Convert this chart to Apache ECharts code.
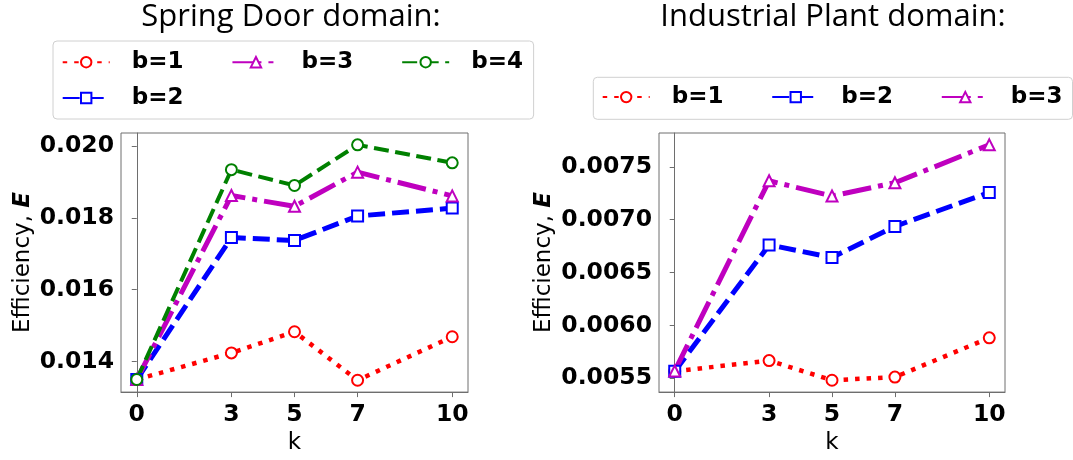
<!DOCTYPE html>
<html>
<head>
<meta charset="utf-8">
<script src="https://cdn.jsdelivr.net/npm/echarts@6/dist/echarts.min.js"></script>
<style>
html,body{margin:0;padding:0;background:#fff;}
#chart{width:1073px;height:460px;}
</style>
</head>
<body>
<div id="chart"></div>
<script>
// ---- data ----
const kValues = [0, 3, 5, 7, 10];
const xTicks = [0, 3, 5, 7, 10];
const springTitle = 'Spring Door domain:';
const plantTitle = 'Industrial Plant domain:';
const springB1 = [0.01350, 0.01424, 0.01483, 0.01348, 0.01469];
const springB2 = [0.01350, 0.01745, 0.01737, 0.01805, 0.01827];
const springB3 = [0.01350, 0.01862, 0.01832, 0.01927, 0.01861];
const springB4 = [0.01350, 0.01934, 0.01890, 0.02003, 0.01953];
const plantB1 = [0.005567, 0.005668, 0.005482, 0.005512, 0.005883];
const plantB2 = [0.005567, 0.006762, 0.006643, 0.006937, 0.007258];
const plantB3 = [0.005570, 0.007368, 0.007224, 0.007350, 0.007708];
const springYTicks = [0.014, 0.016, 0.018, 0.020];
const plantYTicks = [0.0055, 0.0060, 0.0065, 0.0070, 0.0075];

const pairs = (ys) => kValues.map((k, i) => [k, ys[i]]);

const styles = {
  'b=1': {color: '#ff0000', symbol: 'emptyCircle', width: 4.5, dash: [4.5, 7]},
  'b=2': {color: '#0000ff', symbol: 'emptyRect', width: 5, dash: [17, 7]},
  'b=3': {color: '#bf00bf', symbol: 'emptyTriangle', width: 5, dash: [29, 7, 5, 7]},
  'b=4': {color: '#008000', symbol: 'emptyCircle', width: 4, dash: [15, 6.5]}
};

function mkSeries(name, ys, gi) {
  const s = styles[name];
  return {
    type: 'line', name: name, data: pairs(ys),
    xAxisIndex: gi, yAxisIndex: gi,
    symbol: s.symbol, symbolSize: 11, showAllSymbol: true,
    lineStyle: {color: s.color, width: s.width, type: s.dash, cap: 'butt'},
    itemStyle: {color: s.color, borderColor: s.color, borderWidth: 1.2},
    emphasis: {disabled: true}
  };
}

const tickFont = {fontFamily: 'DejaVu Sans', fontWeight: 'bold', fontSize: 23.5, color: '#000'};
const nameFont = {fontFamily: 'DejaVu Sans', fontSize: 23, color: '#000',
  rich: {e: {fontFamily: 'DejaVu Sans', fontWeight: 'bold', fontStyle: 'italic', fontSize: 23, color: '#000'}}};
const frame = '#6e6e6e';

function xAxis(gi) {
  return {
    type: 'value', gridIndex: gi, min: -0.5, max: 10.5,
    name: 'k', nameLocation: 'middle', nameGap: 36, nameTextStyle: nameFont,
    axisLine: {show: true, lineStyle: {color: frame, width: 1}},
    axisTick: {show: true, length: 5, customValues: xTicks, lineStyle: {color: frame}},
    axisLabel: Object.assign({margin: 11, customValues: xTicks, formatter: (v) => String(v)}, tickFont),
    splitLine: {show: false}
  };
}
function yAxis(gi, min, max, ticks, dec, gap) {
  return {
    type: 'value', gridIndex: gi, min: min, max: max,
    name: 'Efficiency, {e|E}', nameLocation: 'middle', nameGap: gap, nameRotate: 90, nameTextStyle: nameFont,
    axisLine: {show: true, lineStyle: {color: frame, width: 1}},
    axisTick: {show: true, length: 5, customValues: ticks, lineStyle: {color: frame}},
    axisLabel: Object.assign({margin: 7, customValues: ticks, formatter: (v) => v.toFixed(dec)}, tickFont),
    splitLine: {show: false}
  };
}

const legendText = {fontFamily: 'DejaVu Sans', fontWeight: 'bold', fontSize: 23, color: '#000', lineHeight: 24, padding: [0, 0, 0, 17]};

const option = {
  animation: false,
  backgroundColor: '#fff',
  graphic: [
    {type: 'text', x: 291, y: 17, style: {text: springTitle, font: '31px "Open Sans"', fill: '#000', textAlign: 'center', textVerticalAlign: 'middle'}},
    {type: 'text', x: 833, y: 17, style: {text: plantTitle, font: '31px "Open Sans"', fill: '#000', textAlign: 'center', textVerticalAlign: 'middle'}}
  ],
  legend: [
    {data: ['b=1', 'b=3', 'b=4'], left: 53, top: 41, orient: 'horizontal', width: 470,
     padding: [9.2, 10.7, 44.8, 8.7], itemGap: 48, itemWidth: 47, itemHeight: 13,
     borderColor: '#d0d0d0', borderWidth: 1, borderRadius: 4, backgroundColor: '#fff',
     textStyle: legendText, selectedMode: false},
    {data: ['b=2'], left: 61.7, top: 86, orient: 'horizontal',
     padding: 0, itemWidth: 47, itemHeight: 13, textStyle: legendText, selectedMode: false},
    {data: ['b=1', 'b=2', 'b=3'], left: 593.3, top: 77.3, orient: 'horizontal', width: 470,
     padding: [7.8, 10, 10.2, 8.4], itemGap: 47.8, itemWidth: 47, itemHeight: 13,
     borderColor: '#d0d0d0', borderWidth: 1, borderRadius: 4, backgroundColor: '#fff',
     textStyle: legendText, selectedMode: false}
  ],
  grid: [
    {left: 121, top: 133, width: 347, height: 268, show: true, borderColor: frame, borderWidth: 1, containLabel: false},
    {left: 659, top: 133, width: 346, height: 268, show: true, borderColor: frame, borderWidth: 1, containLabel: false}
  ],
  xAxis: [xAxis(0), xAxis(1)],
  yAxis: [
    yAxis(0, 0.01315, 0.02036, springYTicks, 3, 86),
    yAxis(1, 0.00537, 0.00782, plantYTicks, 4, 103)
  ],
  series: [
    mkSeries('b=1', springB1, 0),
    mkSeries('b=2', springB2, 0),
    mkSeries('b=3', springB3, 0),
    mkSeries('b=4', springB4, 0),
    mkSeries('b=1', plantB1, 1),
    mkSeries('b=2', plantB2, 1),
    mkSeries('b=3', plantB3, 1)
  ]
};

const chart = echarts.init(document.getElementById('chart'), null, {renderer: 'canvas'});
chart.setOption(option);
</script>
</body>
</html>
